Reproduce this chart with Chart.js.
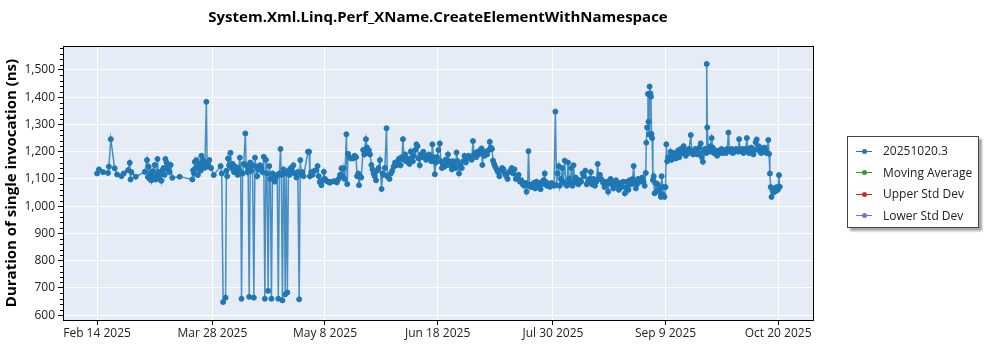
<!DOCTYPE html>
<html><head><meta charset="utf-8">
<script src="https://cdn.jsdelivr.net/npm/chart.js@4/dist/chart.umd.min.js"></script>
<style>
html,body{margin:0;padding:0;background:#fff;}
#wrap{position:relative;width:1000px;height:350px;}
#legend{position:absolute;left:847px;top:136px;width:132px;height:92px;border:1px solid #444;box-shadow:3px 3px 2px rgba(0,0,0,0.35);background:#fff;box-sizing:border-box;font-family:'Open Sans',sans-serif;font-size:12px;color:#222;}
.item{position:absolute;left:0;height:16px;line-height:16px;white-space:nowrap;}
.sym{position:absolute;left:8px;top:7.5px;width:16px;height:1px;}
.dot{position:absolute;left:13.5px;top:5.5px;width:5px;height:5px;border-radius:50%;}
.txt{position:absolute;left:35px;top:0;}
</style>
</head><body>
<div id="wrap"><canvas id="c" width="1000" height="350"></canvas><div id="legend"></div></div>
<script>
const baseDate = '2025-02-14';
const tickLabels = ['Feb 14 2025','Mar 28 2025','May 8 2025','Jun 18 2025','Jul 30 2025','Sep 9 2025','Oct 20 2025'];
const tickDates = ['2025-02-14','2025-03-28','2025-05-08','2025-06-18','2025-07-30','2025-09-09','2025-10-20'];
const yTicks = [600,700,800,900,1000,1100,1200,1300,1400,1500];
const seriesNames = ['20251020.3','Moving Average','Upper Std Dev','Lower Std Dev'];
const seriesColors = ['#1f77b4','#2ca02c','#d62728','#9467bd'];

// run day offsets (days after 2025-02-14) and durations (ns), by period
const febMarDays = [0,0.7,2.2,4,4.3,5,6.4,7.3,8.9,9.7,11.3,11.9,12.2,12.5,14.1,17.4,18.2,18.5,18.8,19.2,19.5,19.8,20.2,20.6,21,21.3,21.7,22,22.3,22.7,23.1,23.4,23.8,24.2,24.6,24.9,25.3,25.7,26,26.4,26.8,27.4,30.1,34.7,35,35.3,35.6,36,36.3,36.7,37,37.4,37.7,38,38.3,38.6,39,39.3,39.8,40.1,40.5,40.9,41.5,42.5];
const febMarNs = [1120,1135,1125,1122,1145,1246,1139,1116,1110,1120,1132,1159,1098,1125,1108,1126,1169,1107,1145,1100,1118,1095,1128,1105,1151,1098,1110,1173,1125,1100,1115,1093,1132,1140,1115,1173,1160,1135,1151,1125,1151,1104,1108,1098,1132,1120,1163,1140,1169,1114,1140,1155,1130,1185,1145,1169,1140,1160,1383,1145,1150,1169,1140,1114];

const aprDays = [45,45.4,45.9,46.8,47.1,47.4,47.7,48.1,48.6,49,49.4,49.9,50.3,50.8,51.2,51.6,52,52.3,52.6,53,53.4,54,54.3,54.7,55,55.4,55.8,56.2,56.6,57.1,57.5,57.9,58.3,58.8,59.3,59.8,60.2,60.7,61.1,61.5,61.9,62.3,62.7,63.1,63.5,63.9,64.3,64.7,65.1,65.6,66,66.4,66.8,67.1,67.5,67.9,68.2,68.5,68.9,69.3,69.7,70.1,70.6,71,71.5,72,72.6,73.1,73.6,74,74.4,74.8,75.2];
const aprNs = [1147,1120,648,664,1130,1110,1175,1150,1196,1140,1155,1125,1145,1130,1115,1140,1178,1125,660,1120,1155,1267,1150,1125,1140,667,1160,1130,1150,664,1178,1145,1110,1135,1150,1140,1125,1181,660,1170,1120,689,1147,1100,660,1120,1110,1090,1105,1115,660,1120,1210,1115,654,1135,1125,676,1120,683,1130,1115,1140,1125,1150,1120,1105,1125,658,1169,1115,1125,1110];

const mayJunDays = [76.8,77.2,77.5,78,78.5,79.2,79.9,80.3,80.7,81.1,81.7,82.2,82.6,83,83.6,84.2,84.7,85.5,86.4,87.3,88,88.5,89,89.4,89.8,90.2,90.8,91.1,91.4,91.9,92.5,93.2,93.8,94.3,94.7,95.1,95.4,95.8,96.2,96.9,97.3,97.9,98.3,98.6,99,99.4,99.9,100.3,100.7,101.1,101.6,102,102.5,103,103.6,104,104.4,104.8,105.4,105.7,106.1,106.5,107,107.5,108,108.5,109,109.5,110,110.5,111,111.4,111.8,112.2,112.6,113,113.4,113.8,114.2,114.6,115,115.4,115.8,116.3,116.7,117.1,117.5,118,118.4,118.8,119.3,119.8,120.3,120.8,121.3,121.7,122.1,122.5,123];
const mayJunNs = [1200,1200,1110,1125,1115,1130,1132,1147,1110,1089,1077,1095,1126,1100,1092,1090,1086,1090,1092,1087,1100,1115,1139,1110,1139,1100,1264,1081,1192,1180,1175,1175,1185,1180,1110,1120,1077,1110,1105,1206,1190,1246,1215,1195,1205,1190,1151,1135,1120,1110,1095,1130,1140,1169,1063,1120,1115,1140,1286,1110,1105,1100,1120,1130,1145,1160,1150,1165,1175,1150,1180,1246,1170,1190,1165,1175,1160,1155,1200,1175,1165,1185,1206,1227,1220,1175,1150,1190,1180,1200,1185,1170,1180,1190,1175,1165,1227,1180,1117];

const junJulDays = [123.4,123.8,124.3,124.8,125.2,125.6,126,126.4,126.9,127.3,127.8,128.2,128.7,129.2,129.6,130.1,130.5,130.9,131.3,131.8,132.3,132.8,133.3,133.8,134.3,134.8,135.3,135.8,136.4,136.9,137.3,137.7,138.1,138.6,139,139.5,140,140.3,140.7,141.1,141.6,142,142.5,143,143.4,143.8,144.2,144.6,145,145.5,146,146.5,147,147.5,148,148.5,149,149.5,150,150.5,151,151.5,152,152.5,153,153.5,154,154.5,155,155.5,156,156.4,156.8,157.1,157.5,158,158.5,159,159.5,160,160.5,161,161.5,162,162.5,163,163.4,163.8,164.3,164.9,165.5,166,166.4];
const junJulNs = [1160,1180,1206,1230,1165,1140,1150,1145,1170,1150,1190,1165,1150,1135,1165,1150,1140,1197,1165,1120,1150,1140,1165,1185,1160,1175,1185,1180,1170,1239,1190,1195,1180,1200,1190,1205,1212,1151,1195,1185,1200,1190,1205,1236,1215,1210,1167,1155,1145,1135,1125,1110,1130,1140,1135,1120,1110,1100,1125,1130,1140,1120,1135,1100,1105,1115,1090,1095,1080,1075,1085,1053,1080,1202,1075,1070,1080,1085,1065,1090,1070,1085,1062,1080,1095,1120,1090,1075,1080,1071,1085,1080,1075];

const augDays = [166.9,167.3,167.7,168.1,168.5,168.9,169.3,169.7,170.3,170.7,171.1,171.5,171.9,172.3,172.7,173.1,173.5,173.9,174.3,174.8,175.3,175.8,176.3,176.8,177.3,177.8,178.3,178.8,179.3,179.8,180.3,180.8,181.3,181.8,182.3,182.7,183.1,183.5,183.9,184.3,184.8,185.3,185.7,186.1,186.5,187,187.5,188,188.5,189,189.5,190,190.5,191,191.6,192.2,192.7,193.1,193.5,194,194.5,195,195.4,195.8,196.2,196.6,197,197.5,198,198.5,199,199.4,199.8,200,200.3,200.6,200.8,201,201.2,201.5,201.7,201.9,202.1,202.4,202.7,203,203.4,203.8,204.2,204.6,205,205.3,205.6,206,206.3,206.6,207];
const augNs = [1347,1077,1120,1147,1075,1100,1140,1090,1167,1080,1075,1160,1100,1085,1140,1075,1150,1090,1105,1085,1080,1095,1090,1120,1110,1130,1080,1090,1100,1125,1080,1100,1075,1090,1155,1100,1115,1100,1095,1085,1070,1080,1090,1053,1085,1100,1080,1065,1090,1095,1075,1060,1085,1070,1090,1047,1070,1090,1060,1095,1080,1100,1147,1085,1065,1080,1100,1095,1090,1105,1090,1075,1122,1233,1289,1412,1310,1263,1439,1414,1402,1265,1250,1096,1110,1047,1085,1055,1080,1060,1050,1034,1110,1070,1040,1034,1070];

const sepOctDays = [207.3,207.6,208,208.4,208.8,209.2,209.6,210,210.4,210.8,211.2,211.6,212,212.4,212.8,213.2,213.6,214,214.4,214.8,215.2,215.6,216.2,216.6,217,217.4,217.8,218.2,218.6,219,219.4,219.8,220.2,220.6,221,221.4,221.8,222,222.2,222.6,223,223.4,223.8,224.2,224.6,225,225.4,225.8,226.2,226.6,227,227.4,227.8,228.2,228.6,229,229.5,229.9,230.3,230.7,231.1,231.5,231.9,232.3,232.7,233.1,233.5,233.8,234.2,234.6,235,235.4,235.8,236.2,236.6,237,237.4,237.8,238.2,238.6,239,239.4,239.8,240.2,240.6,241,241.4,241.8,242.2,242.6,243,243.4,243.8,244.4,244.7,245,245.3,245.6,245.9,246.3,246.7,247.1,247.5,247.9,248.3,248.6];
const sepOctNs = [1227,1165,1180,1175,1200,1170,1185,1195,1180,1175,1190,1205,1180,1195,1212,1195,1220,1200,1185,1205,1195,1210,1261,1200,1190,1200,1210,1205,1190,1195,1215,1230,1180,1163,1200,1210,1195,1522,1289,1210,1200,1220,1250,1215,1195,1205,1195,1185,1200,1205,1195,1210,1195,1200,1205,1195,1210,1270,1205,1200,1210,1195,1205,1200,1210,1205,1200,1246,1205,1210,1200,1195,1210,1205,1250,1210,1195,1200,1215,1205,1190,1205,1235,1245,1210,1220,1200,1195,1210,1200,1215,1205,1195,1243,1192,1120,1070,1034,1060,1050,1065,1055,1070,1060,1114,1071];

const DAY = 86400000;
const base = Date.parse(baseDate + 'T00:00:00Z');
const toDay = s => (Date.parse(s + 'T00:00:00Z') - base) / DAY;
const tickDays = tickDates.map(toDay);

function pairs(d, v){ const n = Math.min(d.length, v.length); const out=[]; for(let i=0;i<n;i++) out.push({x:d[i], y:v[i]}); return out; }
const points = [].concat(
  pairs(febMarDays, febMarNs), pairs(aprDays, aprNs), pairs(mayJunDays, mayJunNs),
  pairs(junJulDays, junJulNs), pairs(augDays, augNs), pairs(sepOctDays, sepOctNs));

const FONT = "'Open Sans', sans-serif";

const framePlugin = {
  id: 'frame',
  afterLayout(chart){
    if (chart.titleBlock){ chart.titleBlock.left = chart.chartArea.left; chart.titleBlock.right = chart.chartArea.right; }
  },
  beforeDraw(chart){
    const {ctx, chartArea:a} = chart;
    ctx.save(); ctx.fillStyle = '#E5ECF6';
    ctx.fillRect(a.left, a.top, a.right - a.left, a.bottom - a.top); ctx.restore();
  },
  afterDraw(chart){
    const {ctx, chartArea:a} = chart; const ys = chart.scales.y;
    ctx.save(); ctx.strokeStyle = '#000'; ctx.lineWidth = 1;
    ctx.strokeRect(Math.round(a.left)+0.5, Math.round(a.top)+0.5, Math.round(a.right-a.left), Math.round(a.bottom-a.top));
    ctx.beginPath();
    for (let v = Math.ceil(ys.min/20)*20; v <= ys.max; v += 20){
      if (v % 100 === 0) continue;
      const y = Math.round(ys.getPixelForValue(v)) + 0.5;
      ctx.moveTo(a.left - 3, y); ctx.lineTo(a.left, y);
    }
    ctx.stroke(); ctx.restore();
  }
};

const datasets = seriesNames.map((name, i) => ({
  label: name,
  data: i === 0 ? points : [],
  borderColor: i === 0 ? 'rgba(31,119,180,0.8)' : seriesColors[i],
  backgroundColor: seriesColors[i],
  pointBackgroundColor: seriesColors[i],
  pointBorderColor: seriesColors[i],
  pointRadius: 2.5, pointBorderWidth: 1, borderWidth: 1.5, tension: 0
}));

const chart = new Chart(document.getElementById('c'), {
  type: 'line',
  data: { datasets },
  plugins: [framePlugin],
  options: {
    responsive: false, animation: false,
    layout: { padding: { left: 0, right: 187, top: 0, bottom: 0 } },
    plugins: {
      legend: { display: false }, tooltip: { enabled: false },
      title: { display: true, text: 'System.Xml.Linq.Perf_XName.CreateElementWithNamespace',
        color: '#000', font: { family: FONT, size: 15, weight: 'bold' }, padding: { top: 9, bottom: 19 } }
    },
    scales: {
      x: {
        type: 'linear', min: -12.4, max: 260.7,
        afterBuildTicks: s => { s.ticks = tickDays.map(v => ({ value: v })); },
        afterFit: s => { s.height = 30; },
        ticks: { autoSkip: false, maxRotation: 0, padding: 1, color: '#222', font: { family: FONT, size: 12 },
          callback: (v, i) => tickLabels[i] },
        grid: { color: '#fff', lineWidth: 1, tickColor: '#000', tickLength: 5 },
        border: { color: '#000' }
      },
      y: {
        min: 582, max: 1588,
        afterBuildTicks: s => { s.ticks = yTicks.map(v => ({ value: v })); },
        afterFit: s => { s.width = 63; },
        ticks: { padding: 3, color: '#222', font: { family: FONT, size: 12 },
          callback: v => v.toLocaleString('en-US') },
        grid: { color: '#fff', lineWidth: 1, tickColor: '#000', tickLength: 5 },
        border: { color: '#000' },
        title: { display: true, text: 'Duration of single invocation (ns)', color: '#000',
          font: { family: FONT, size: 15, weight: 'bold' }, padding: { top: 3, bottom: 0 } }
      }
    }
  }
});

// legend built from the chart's datasets
const lg = document.getElementById('legend');
chart.data.datasets.forEach((ds, i) => {
  const it = document.createElement('div'); it.className = 'item'; it.style.top = (6 + i * 21.5) + 'px';
  it.innerHTML = '<span class="sym" style="background:' + ds.backgroundColor + '"></span><span class="dot" style="background:' + ds.backgroundColor + '"></span><span class="txt"></span>';
  it.querySelector('.txt').textContent = ds.label;
  lg.appendChild(it);
});
</script>
</body></html>
